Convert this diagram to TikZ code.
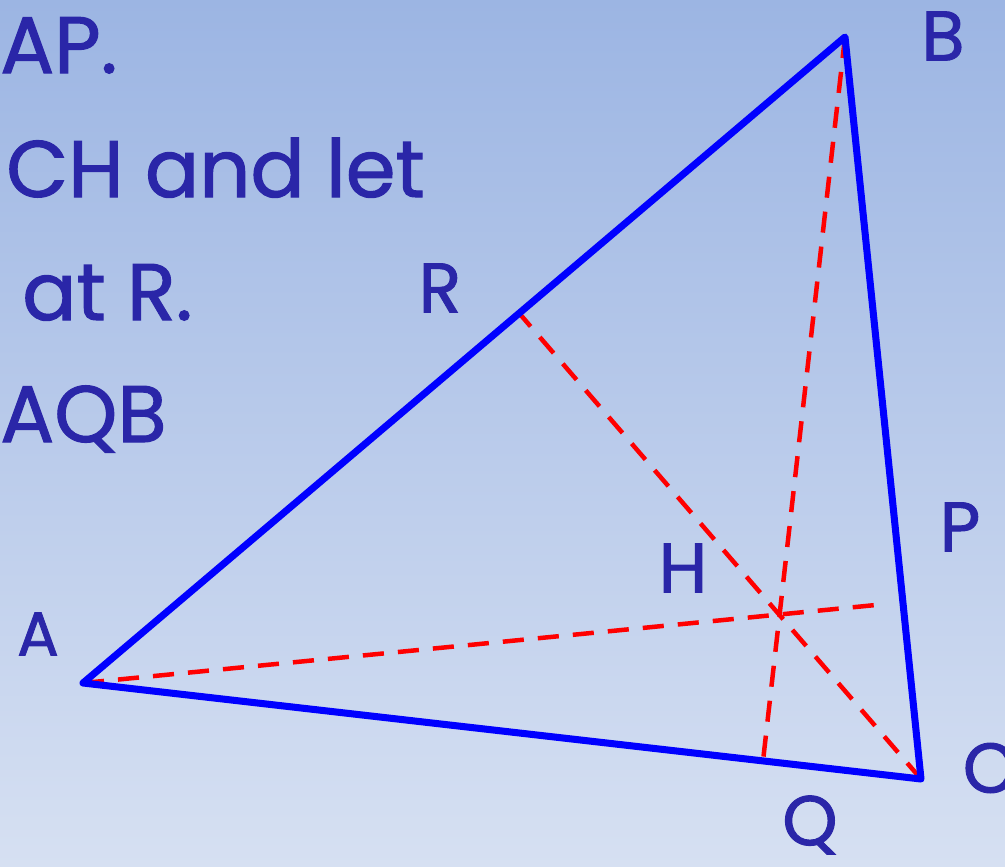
\documentclass[tikz,border=0pt]{standalone}
\usepackage{fontspec}
\setmainfont{Poppins}[FakeBold=1.3]
\usepackage{tikz}
\usetikzlibrary{positioning, calc}
\definecolor{Ink}{HTML}{2A26A8}
\definecolor{Side}{HTML}{0000FF}
\definecolor{Alt}{HTML}{FF0000}
\definecolor{BgTop}{HTML}{9CB5E3}
\definecolor{BgBot}{HTML}{D6E0F2}

\begin{document}
\begin{tikzpicture}[
  x=0.025cm, y=-0.025cm,
  side/.style={draw=Side, line width=5pt, line join=round, line cap=round},
  altitude/.style={draw=Alt, line width=3.2pt, dash pattern=on 15pt off 10pt},
  vlabel/.style={text=Ink, font=\fontsize{50}{58}\selectfont, inner sep=0pt},
  line/.style={text=Ink, font=\fontsize{57}{66}\selectfont, inner sep=0pt, anchor=base west}
]
\useasboundingbox (0,0) rectangle (1005,867);
\fill[top color=BgTop, bottom color=BgBot] (0,0) rectangle (1005,867);

\node[line] (l1) at (0,73) {AP.};
\node[line] (l2) at (6,197) {CH and let};
\node[line] (l3) at (22,320) {at R.};
\node[line] (l4) at (0,442) {AQB};

\coordinate (A) at (83,683);
\coordinate (B) at (845,37);
\coordinate (C) at (921,779);
\coordinate (R) at (519,313);
\coordinate (P) at (886,604);
\coordinate (Q) at (763,761);
\coordinate (H) at (780,612);

\draw[altitude] (A) -- (P);
\draw[altitude] (B) -- (Q);
\draw[altitude] (C) -- (R);
\draw[side] (A) -- (B) -- (C) -- cycle;

\node[vlabel, font=\fontsize{44}{52}\selectfont] (lblA) at (38,634) {A};
\node[vlabel] (lblB) at (943,36) {B};
\node[vlabel] (lblC) at (990,768) {C};
\node[vlabel] (lblR) at (440,288) {R};
\node[vlabel] (lblP) at (960,527) {P};
\node[vlabel] (lblH) at (683,568) {H};
\node[vlabel] (lblQ) at (810,825) {Q};
\end{tikzpicture}
\end{document}
